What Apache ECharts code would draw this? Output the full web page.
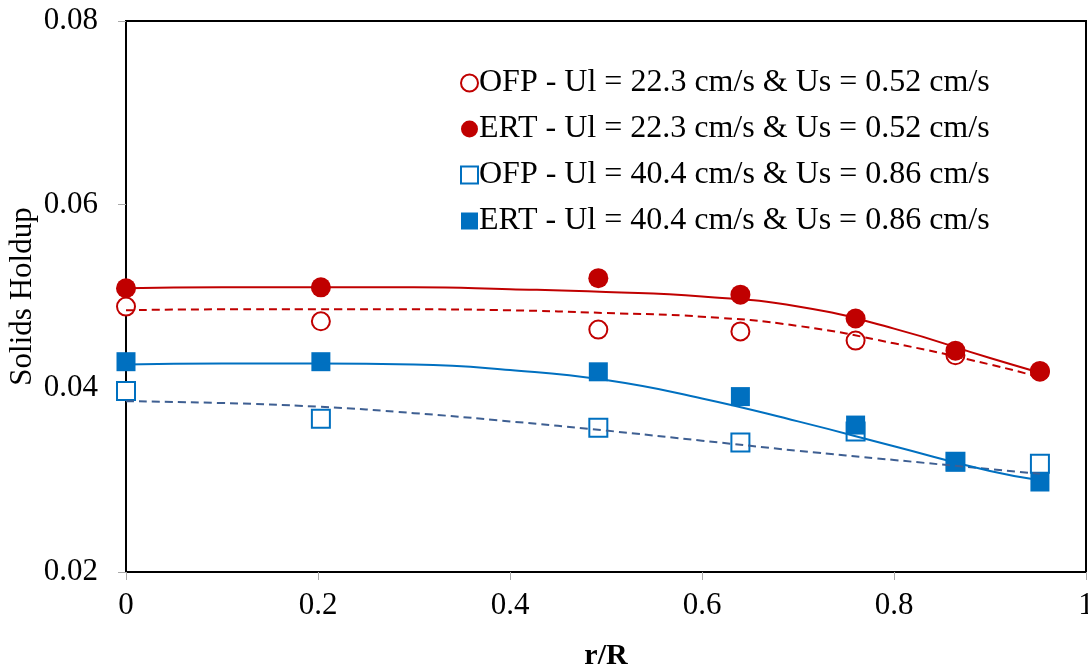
<!DOCTYPE html>
<html>
<head>
<meta charset="utf-8">
<script src="https://cdn.jsdelivr.net/npm/echarts@6/dist/echarts.min.js"></script>
<style>
  html, body { margin: 0; padding: 0; background: #fff; }
  #chart { width: 1088px; height: 667px; }
</style>
</head>
<body>
<div id="chart"></div>
<script>
// Radial positions (r/R) of the measurement points
const radialPos = [0, 0.203, 0.492, 0.640, 0.760, 0.864, 0.952];

// Measured solids holdup
const ofpLow  = [0.0489, 0.0473, 0.0464, 0.0462, 0.0452, 0.0436, 0.0418];
const ertLow  = [0.0509, 0.0510, 0.0520, 0.0502, 0.0476, 0.0441, 0.0419];
const ofpHigh = [0.0397, 0.0367, 0.0357, 0.0341, 0.0353, 0.0320, 0.0318];
const ertHigh = [0.0429, 0.0429, 0.0418, 0.0391, 0.0360, 0.0320, 0.0298];

// Trend curves through each data set
const trendX        = [0, 0.1, 0.2, 0.3, 0.4, 0.5, 0.6, 0.7, 0.8, 0.9, 0.952];
const ofpLowTrendY  = [0.0485, 0.0486, 0.0486, 0.0486, 0.0485, 0.0482, 0.0478, 0.0468, 0.0449, 0.0426, 0.0412];
const ertLowTrendY  = [0.0509, 0.0510, 0.0510, 0.0510, 0.0508, 0.0505, 0.0500, 0.0489, 0.0465, 0.0433, 0.0417];
const ofpHighTrendY = [0.0386, 0.0384, 0.0380, 0.0373, 0.0364, 0.0354, 0.0343, 0.0332, 0.0322, 0.0312, 0.0307];
const ertHighTrendY = [0.0426, 0.0427, 0.0427, 0.0426, 0.0420, 0.0409, 0.0389, 0.0364, 0.0337, 0.0310, 0.0300];

const seriesNames = [
  'OFP - Ul = 22.3 cm/s & Us = 0.52 cm/s',
  'ERT - Ul = 22.3 cm/s & Us = 0.52 cm/s',
  'OFP - Ul = 40.4 cm/s & Us = 0.86 cm/s',
  'ERT - Ul = 40.4 cm/s & Us = 0.86 cm/s'
];

const xTicks = { min: 0, max: 1, interval: 0.2 };
const yTicks = { min: 0.02, max: 0.08, interval: 0.02 };

const RED = '#C00000';
const BLUE = '#0070C0';
const SLATE = '#3E5F92';
const FONT = 'Liberation Serif';

const pairs = (xs, ys) => xs.map((x, i) => [x, ys[i]]);

function markers(name, ys, symbol, size, style) {
  return {
    name, type: 'scatter', data: pairs(radialPos, ys),
    symbol, symbolSize: size, itemStyle: Object.assign({ opacity: 1 }, style),
    clip: false, z: 3, silent: true
  };
}
function trend(ys, color, dashed) {
  return {
    type: 'line', data: pairs(trendX, ys), smooth: 0.5,
    showSymbol: false, symbol: 'none', silent: true, z: 4,
    lineStyle: { color, width: 2, type: dashed ? [8, 5] : 'solid' }
  };
}

const chart = echarts.init(document.getElementById('chart'));
chart.setOption({
  animation: false,
  backgroundColor: '#fff',
  grid: {
    left: 126, right: 2, top: 21, bottom: 95,
    outerBoundsMode: 'none', containLabel: false,
    show: true, borderColor: '#000', borderWidth: 2, backgroundColor: 'transparent'
  },
  legend: {
    orient: 'vertical', left: 455, top: 62,
    itemWidth: 17, itemHeight: 17, itemGap: 14,
    textStyle: { fontFamily: FONT, fontSize: 32, color: '#000', padding: [0, 0, 0, -4] },
    data: seriesNames
  },
  xAxis: {
    type: 'value', min: xTicks.min, max: xTicks.max, interval: xTicks.interval,
    name: 'r/R', nameLocation: 'middle', nameGap: 69, nameMoveOverlap: false,
    nameTextStyle: { fontFamily: FONT, fontSize: 30, fontWeight: 'bold', color: '#000' },
    axisLine: { show: true, lineStyle: { color: '#000', width: 2 } },
    axisTick: { show: true, length: 8, lineStyle: { color: '#aaa', width: 1 } },
    axisLabel: { fontFamily: FONT, fontSize: 31, color: '#000', margin: 18 },
    splitLine: { show: false }
  },
  yAxis: {
    type: 'value', min: yTicks.min, max: yTicks.max, interval: yTicks.interval,
    name: 'Solids Holdup', nameLocation: 'middle', nameGap: 88, nameMoveOverlap: false,
    nameTextStyle: { fontFamily: FONT, fontSize: 31, color: '#000' },
    axisLine: { show: true, lineStyle: { color: '#000', width: 2 } },
    axisTick: { show: true, length: 8, lineStyle: { color: '#aaa', width: 1 } },
    axisLabel: { fontFamily: FONT, fontSize: 31, color: '#000', margin: 28,
                 formatter: v => v.toFixed(2) },
    splitLine: { show: false }
  },
  series: [
    markers(seriesNames[0], ofpLow, 'circle', 18, { color: '#fff', borderColor: RED, borderWidth: 2 }),
    markers(seriesNames[1], ertLow, 'circle', 20, { color: RED }),
    markers(seriesNames[2], ofpHigh, 'rect', 18, { color: '#fff', borderColor: BLUE, borderWidth: 2 }),
    markers(seriesNames[3], ertHigh, 'rect', 19, { color: BLUE }),
    trend(ofpLowTrendY, RED, true),
    trend(ertLowTrendY, RED, false),
    trend(ofpHighTrendY, SLATE, true),
    trend(ertHighTrendY, BLUE, false)
  ]
});
</script>
</body>
</html>
